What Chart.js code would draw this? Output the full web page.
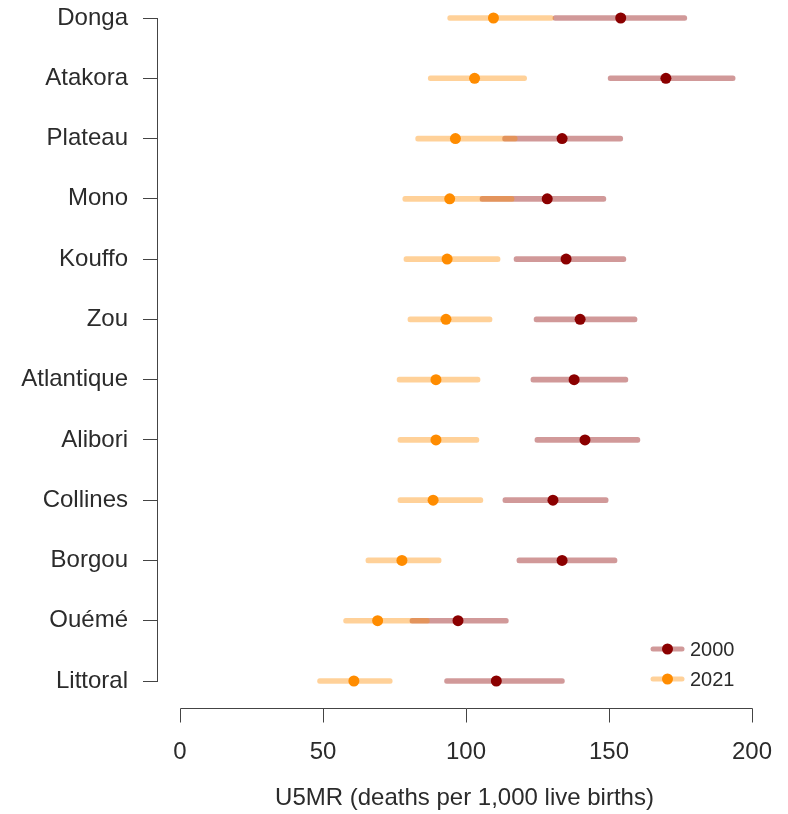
<!DOCTYPE html>
<html>
<head>
<meta charset="utf-8">
<title>U5MR by department, 2000 vs 2021</title>
<script src="https://cdn.jsdelivr.net/npm/chart.js@4.4.1/dist/chart.umd.min.js"></script>
<style>
  html, body { margin: 0; padding: 0; background: #fff; }
  #wrap { width: 788px; height: 814px; }
</style>
</head>
<body>
<div id="wrap"><canvas id="u5mrChart" width="788" height="814"></canvas></div>
<script>
// Data
const regions = ['Donga', 'Atakora', 'Plateau', 'Mono', 'Kouffo', 'Zou',
  'Atlantique', 'Alibori', 'Collines', 'Borgou', 'Ouémé', 'Littoral'];

const est2000 = [154.1, 169.9, 133.6, 128.4, 135.0, 139.9, 137.8, 141.6, 130.4, 133.6, 97.2, 110.6];
const lo2000  = [130.4, 149.7, 112.8, 104.9, 116.8, 123.8, 122.7, 124.1, 112.9, 117.8, 80.4, 92.5];
const hi2000  = [177.2, 194.1, 154.8, 148.9, 155.9, 159.8, 156.6, 160.8, 149.7, 152.8, 114.8, 134.4];

const est2021 = [109.6, 103.0, 96.3, 94.3, 93.4, 93.0, 89.5, 89.5, 88.5, 77.6, 69.1, 60.8];
const lo2021  = [93.6, 86.8, 82.4, 77.9, 78.3, 79.7, 75.9, 76.2, 76.2, 65.0, 57.2, 48.1];
const hi2021  = [130.6, 121.2, 117.9, 116.8, 111.9, 109.1, 104.9, 104.5, 105.9, 91.3, 87.2, 74.2];

const xTicks = [0, 50, 100, 150, 200];
const seriesNames = ['2000', '2021'];

// Styling
const FONT = '"Liberation Sans", Arial, sans-serif';
const TEXT_COLOR = '#2b2b2b';
const AXIS_COLOR = '#444';
const DOT_2000 = '#8B0000';
const DOT_2021 = '#FF8C00';
const BAR_2000 = 'rgba(139, 0, 0, 0.4)';
const BAR_2021 = 'rgba(255, 140, 0, 0.4)';

/**
 * R-style detached x axis, plus the legend in the lower right corner
 */
const extrasPlugin = {
  id: 'extras',
  afterDraw(chart) {
    const { ctx, chartArea, scales } = chart;
    const x = scales.x;

    // x axis line, offset below the plot area
    const yAxis = Math.round(chartArea.bottom + 27) + 0.5;
    ctx.save();
    ctx.strokeStyle = AXIS_COLOR;
    ctx.lineWidth = 1;
    ctx.beginPath();
    ctx.moveTo(Math.round(x.getPixelForValue(xTicks[0])) + 0.5, yAxis);
    ctx.lineTo(Math.round(x.getPixelForValue(xTicks[xTicks.length - 1])) + 0.5, yAxis);
    xTicks.forEach(v => {
      const px = Math.round(x.getPixelForValue(v)) + 0.5;
      ctx.moveTo(px, yAxis);
      ctx.lineTo(px, yAxis + 14);
    });
    ctx.stroke();

    // legend
    const rows = [
      { label: seriesNames[0], line: BAR_2000, dot: DOT_2000, y: chartArea.bottom - 32 },
      { label: seriesNames[1], line: BAR_2021, dot: DOT_2021, y: chartArea.bottom - 2 }
    ];
    const lx = chartArea.right - 119;
    rows.forEach(r => {
      ctx.strokeStyle = r.line;
      ctx.lineWidth = 5;
      ctx.lineCap = 'round';
      ctx.beginPath();
      ctx.moveTo(lx, r.y);
      ctx.lineTo(lx + 29, r.y);
      ctx.stroke();
      ctx.fillStyle = r.dot;
      ctx.beginPath();
      ctx.arc(lx + 14.5, r.y, 5.5, 0, Math.PI * 2);
      ctx.fill();
      ctx.fillStyle = TEXT_COLOR;
      ctx.font = `20px ${FONT}`;
      ctx.textBaseline = 'middle';
      ctx.textAlign = 'left';
      ctx.fillText(r.label, lx + 37, r.y + 1);
    });
    ctx.restore();
  }
};

function buildChart() {
  const ctx = document.getElementById('u5mrChart').getContext('2d');

  const pxPerUnit = 2.86;            // 0 -> 180px, 200 -> 752px
  const plotLeft = 157;
  const plotRight = 772;

  new Chart(ctx, {
    data: {
      labels: regions,
      datasets: [
        {
          type: 'line',
          label: seriesNames[1],
          data: regions.map((r, i) => ({ x: est2021[i], y: r })),
          showLine: false,
          pointRadius: 5.5,
          pointHoverRadius: 5.5,
          pointBackgroundColor: DOT_2021,
          pointBorderWidth: 0,
          clip: false,
          order: 0
        },
        {
          type: 'line',
          label: seriesNames[0],
          data: regions.map((r, i) => ({ x: est2000[i], y: r })),
          showLine: false,
          pointRadius: 5.5,
          pointHoverRadius: 5.5,
          pointBackgroundColor: DOT_2000,
          pointBorderWidth: 0,
          clip: false,
          order: 1
        },
        {
          type: 'bar',
          label: seriesNames[1] + ' interval',
          data: regions.map((r, i) => [lo2021[i], hi2021[i]]),
          backgroundColor: BAR_2021,
          barThickness: 5,
          borderRadius: 2.5,
          borderSkipped: false,
          grouped: false,
          clip: false,
          order: 2
        },
        {
          type: 'bar',
          label: seriesNames[0] + ' interval',
          data: regions.map((r, i) => [lo2000[i], hi2000[i]]),
          backgroundColor: BAR_2000,
          barThickness: 5,
          borderRadius: 2.5,
          borderSkipped: false,
          grouped: false,
          clip: false,
          order: 3
        }
      ]
    },
    options: {
      indexAxis: 'y',
      responsive: false,
      animation: false,
      devicePixelRatio: 1,
      layout: { padding: { top: 18, right: 788 - plotRight, left: 0, bottom: 0 } },
      plugins: {
        legend: { display: false },
        tooltip: { enabled: false }
      },
      scales: {
        x: {
          type: 'linear',
          position: 'bottom',
          min: -(180 - plotLeft) / pxPerUnit,
          max: (plotRight - 180) / pxPerUnit,
          afterBuildTicks: s => { s.ticks = xTicks.map(v => ({ value: v })); },
          afterFit: s => {
            s.height = 133;
            s.paddingLeft = 0;
            s.paddingRight = 0;
          },
          grid: { display: false, drawTicks: false },
          border: { display: false },
          ticks: {
            padding: 57,
            maxRotation: 0,
            color: TEXT_COLOR,
            font: { family: FONT, size: 24 }
          },
          title: {
            display: true,
            text: 'U5MR (deaths per 1,000 live births)',
            color: TEXT_COLOR,
            font: { family: FONT, size: 24 },
            padding: { top: 0, bottom: 1 }
          }
        },
        y: {
          type: 'category',
          position: 'left',
          offset: false,
          afterFit: s => {
            s.width = plotLeft;
            s.paddingTop = 0;
            s.paddingBottom = 0;
          },
          grid: {
            display: true,
            offset: false,
            drawOnChartArea: false,
            drawTicks: true,
            tickLength: 14,
            color: AXIS_COLOR
          },
          border: { display: true, color: AXIS_COLOR, width: 1 },
          ticks: {
            padding: 15,
            color: TEXT_COLOR,
            font: { family: FONT, size: 24 }
          }
        }
      }
    },
    plugins: [extrasPlugin]
  });
}

document.addEventListener('DOMContentLoaded', buildChart);
</script>
</body>
</html>
